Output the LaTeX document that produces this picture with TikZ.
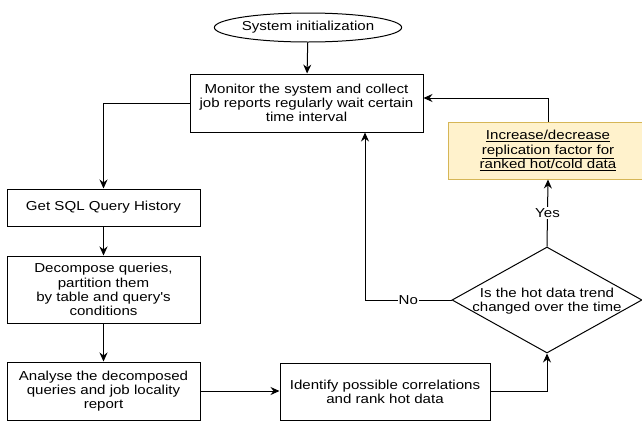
\documentclass[tikz,border=0pt]{standalone}
\usepackage{fontspec}
\setmainfont{Liberation Sans}[FakeStretch=1.16, Ligatures=TeXOff]
\usetikzlibrary{shapes.geometric,arrows.meta}
\definecolor{yfill}{HTML}{FFF2CC}
\definecolor{ydraw}{HTML}{D6B656}
\tikzset{
  txt/.style={font=\fontsize{13}{14.2}\selectfont, align=center},
  box/.style={txt, draw, line width=1pt, inner sep=0pt},
  arr/.style={line width=1pt, -{Stealth[length=9pt,width=8pt,inset=3pt]}},
  lbl/.style={txt, fill=white, inner sep=1pt},
}
\begin{document}
\begin{tikzpicture}[x=1pt,y=-1pt]
\useasboundingbox (0,0) rectangle (642,421);
\node[box, ellipse, minimum width=178pt, minimum height=29pt] (init) at (308,27.5) {System initialization};
\node[box, minimum width=233pt, minimum height=58pt] (monitor) at (306.5,103) {Monitor the system and collect\\job reports regularly wait certain\\time interval};
\node[box, minimum width=193pt, minimum height=37pt] (getsql) at (103.5,207.5) {Get SQL Query History};
\node[box, minimum width=193pt, minimum height=67pt] (decomp) at (103.5,289.5) {Decompose queries,\\partition them\\by table and query's\\conditions};
\node[box, minimum width=193pt, minimum height=58pt] (analyse) at (103.5,391) {Analyse the decomposed\\queries and job locality\\report};
\node[box, minimum width=210pt, minimum height=57pt] (identify) at (385,391.5) {Identify possible correlations\\and rank hot data};
\node[box, diamond, minimum width=190pt, minimum height=106pt] (dec) at (547,300) {};
\node[txt] (dectext) at ([yshift=-1pt]dec.center) {Is the hot data trend\\changed over the time};
\node[box, draw=ydraw, fill=yfill, minimum width=200pt, minimum height=57pt] (yellow) at (548,150.5) {\underline{Increase/decrease}\\\underline{replication factor for}\\\underline{ranked hot/cold data}};
\draw[arr] (init) -- (monitor);
\draw[arr] (monitor.west) -| (getsql.north);
\draw[arr] (getsql) -- (decomp);
\draw[arr] (decomp) -- (analyse);
\draw[arr] (analyse.east) -- (analyse.east -| identify.west);
\draw[arr] (identify.east) -| (dec.south);
\draw[arr] (dec.west) -| node[pos=0.25, lbl] {No} ([xshift=58.5pt]monitor.south);
\draw[arr] (dec.north) -- node[lbl] {Yes} (yellow.south);
\draw[arr] (yellow.north) |- ([yshift=5pt]monitor.east);
\end{tikzpicture}
\end{document}
